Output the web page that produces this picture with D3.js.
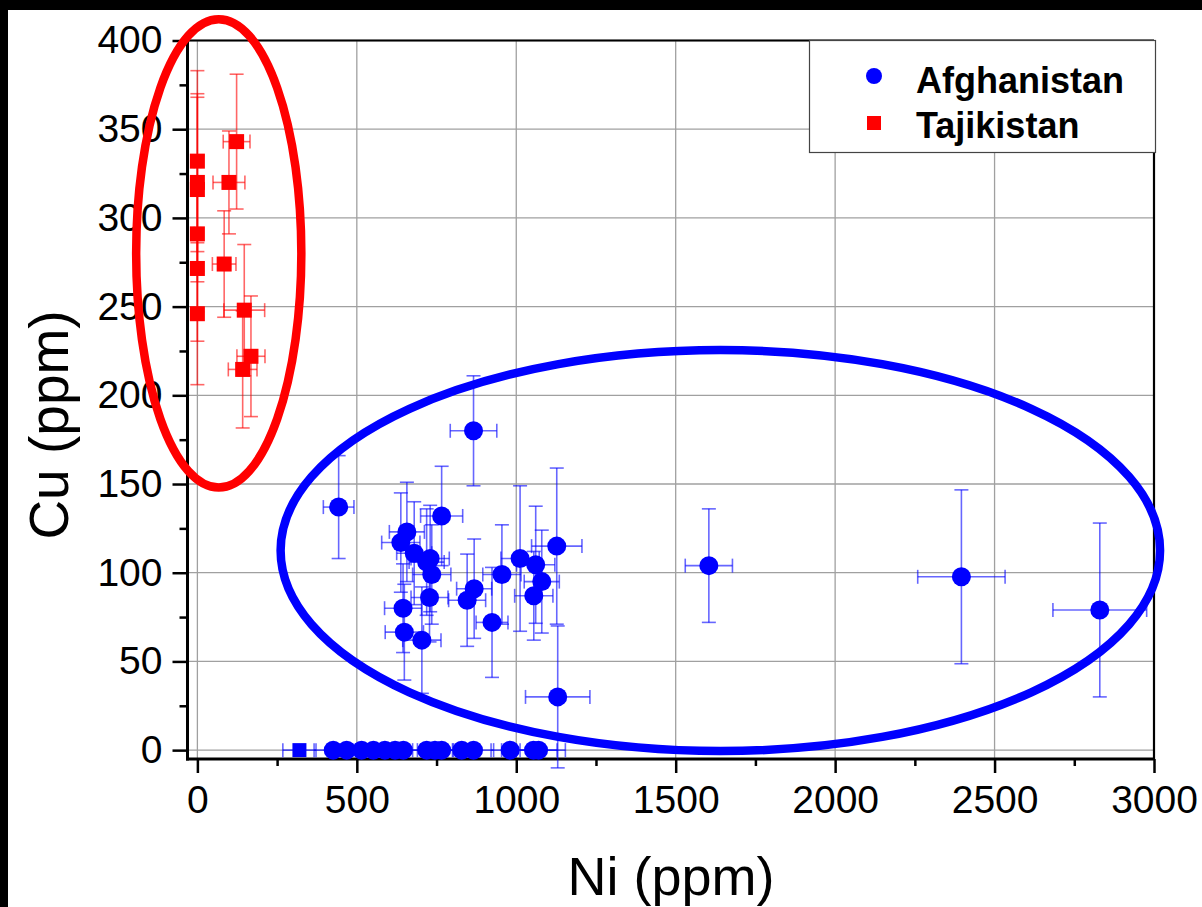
<!DOCTYPE html>
<html><head><meta charset="utf-8">
<script src="https://cdn.jsdelivr.net/npm/d3@7"></script>
<style>
body{margin:0;background:#fff;}
svg{display:block;}
text{font-family:"Liberation Sans",Arial,Helvetica,sans-serif;fill:#000;}
</style>
</head><body>
<svg id="c" width="1202" height="907"></svg>
<script>
// ---------------- data ----------------
const xTicks = [0, 500, 1000, 1500, 2000, 2500, 3000];
const xMinor = [250, 750, 1250, 1750, 2250, 2750];
const yTicks = [0, 50, 100, 150, 200, 250, 300, 350, 400];
const yMinor = [25, 75, 125, 175, 225, 275, 325, 375];

// Afghanistan (blue circles)
const afgNi    = [443, 866, 657, 638, 680, 730, 719, 735, 766, 728, 645, 649, 704, 868, 846, 955, 924, 1012, 1061, 1080, 1055, 1127, 1130, 1604, 2396, 2830];
const afgCu    = [137, 180, 123, 117, 111, 108, 106, 99, 132, 86, 80, 66.5, 62, 91, 84.5, 99, 72, 108, 104.5, 95, 87, 115, 30, 104, 97.7, 79];
const afgNiErr = [48, 73, 55, 60, 55, 60, 55, 60, 66, 58, 58, 60, 60, 55, 58, 60, 50, 60, 60, 55, 60, 79, 101, 74, 137, 147];
const afgCuErr = [29, 31, 28, 28, 29, 30, 30, 28, 28, 25, 25, 27, 30, 28, 26, 28, 31, 41, 33, 29, 25, 44, 40, 32, 49, 49];

// Afghanistan samples with Cu = 0
const afgZeroNi    = [426, 468, 515, 552, 588, 620, 646, 719, 745, 766, 829, 866, 981, 1054, 1070];
const afgZeroNiErr = [60, 55, 55, 55, 60, 55, 55, 60, 55, 60, 55, 63, 60, 100, 58];
// blue square sample at Cu = 0
const sqZeroNi = [320];
const sqZeroNiErr = [52];

// Tajikistan (red squares)
const tajNi    = [0, 0, 0, 0, 0, 0, 123, 99, 84, 147, 168, 142];
const tajCu    = [332, 320, 316, 291, 271.5, 246, 343, 320, 274, 248, 222, 214.6];
const tajNiErr = [10, 10, 10, 10, 10, 10, 42, 50, 37, 64, 44, 45];
const tajCuErr = [51, 50, 52, 44, 41, 40, 38, 29, 30, 37, 34, 33];

// annotation ellipses (data units: centre Ni, centre Cu, radius Ni, radius Cu)
const ellipseNames = ["Tajikistan", "Afghanistan"];
const ellipseCx = [67, 1640];
const ellipseCy = [280, 112.5];
const ellipseRx = [259, 1379];
const ellipseRy = [132, 113];

const seriesNames = ["Afghanistan", "Tajikistan"];

// ---------------- drawing ----------------
const svg = d3.select("#c");
const L = 187.5, R = 1154, T = 40.5, B = 759;
const x = d3.scaleLinear().domain([-31, 3000]).range([L, R]);
const y = d3.scaleLinear().domain([-5, 400]).range([B, T]);
const BLUE = "#0000ff", RED = "#ff0000";

svg.append("rect").attr("width", 1202).attr("height", 907).attr("fill", "#fff");

// grid
const grid = svg.append("g").attr("stroke", "#a0a0a0").attr("stroke-width", 1.3);
grid.selectAll("line.gx").data(xTicks).join("line")
  .attr("x1", d => x(d)).attr("x2", d => x(d)).attr("y1", T).attr("y2", B);
grid.selectAll("line.gy").data(yTicks).join("line")
  .attr("x1", L).attr("x2", R).attr("y1", d => y(d)).attr("y2", d => y(d));

// axes
const xAxis = d3.axisBottom(x).tickValues(xTicks).tickSize(14).tickPadding(12).tickFormat(d3.format("d"));
const gx = svg.append("g").attr("transform", `translate(0,${B})`).call(xAxis);
gx.select(".domain").remove();
gx.selectAll(".tick line").attr("stroke", "#000").attr("stroke-width", 2.5);
gx.selectAll(".tick text").attr("font-size", 39).attr("fill", "#000")
  .attr("font-family", '"Liberation Sans",Arial,sans-serif');
const gxm = svg.append("g").attr("transform", `translate(0,${B})`)
  .call(d3.axisBottom(x).tickValues(xMinor).tickSize(7).tickFormat(""));
gxm.select(".domain").remove();
gxm.selectAll(".tick line").attr("stroke", "#000").attr("stroke-width", 2.5);

const yAxis = d3.axisLeft(y).tickValues(yTicks).tickSize(15).tickPadding(10).tickFormat(d3.format("d"));
const gy = svg.append("g").attr("transform", `translate(${L},0)`).call(yAxis);
gy.select(".domain").remove();
gy.selectAll(".tick line").attr("stroke", "#000").attr("stroke-width", 2.5);
gy.selectAll(".tick text").attr("font-size", 39).attr("fill", "#000")
  .attr("font-family", '"Liberation Sans",Arial,sans-serif');
const gym = svg.append("g").attr("transform", `translate(${L},0)`)
  .call(d3.axisLeft(y).tickValues(yMinor).tickSize(8).tickFormat(""));
gym.select(".domain").remove();
gym.selectAll(".tick line").attr("stroke", "#000").attr("stroke-width", 2.5);

// frame
svg.append("line").attr("x1", L).attr("x2", R).attr("y1", T).attr("y2", T).attr("stroke", "#000").attr("stroke-width", 2.2);
svg.append("line").attr("x1", R).attr("x2", R).attr("y1", T).attr("y2", B).attr("stroke", "#000").attr("stroke-width", 2.2);
svg.append("line").attr("x1", L).attr("x2", L).attr("y1", T - 1).attr("y2", B + 1.5).attr("stroke", "#000").attr("stroke-width", 3);
svg.append("line").attr("x1", L - 1.5).attr("x2", R + 1).attr("y1", B).attr("y2", B).attr("stroke", "#000").attr("stroke-width", 3);

// error bar helper
function errBars(g, xs, ys, xe, ye, color) {
  const cap = 7;
  const dat = xs.map((v, i) => ({ x: v, y: ys[i], xe: xe ? xe[i] : 0, ye: ye ? ye[i] : 0 }));
  const gg = g.append("g").attr("stroke", color).attr("stroke-opacity", 0.6).attr("stroke-width", 1.6).attr("fill", "none");
  dat.forEach(d => {
    const px = x(d.x), py = y(d.y);
    if (d.ye > 0) {
      const y1 = y(d.y + d.ye), y2 = y(d.y - d.ye);
      gg.append("line").attr("x1", px).attr("x2", px).attr("y1", y1).attr("y2", y2);
      gg.append("line").attr("x1", px - cap).attr("x2", px + cap).attr("y1", y1).attr("y2", y1);
      gg.append("line").attr("x1", px - cap).attr("x2", px + cap).attr("y1", y2).attr("y2", y2);
    }
    if (d.xe > 0) {
      const x1 = x(d.x - d.xe), x2 = x(d.x + d.xe);
      gg.append("line").attr("x1", x1).attr("x2", x2).attr("y1", py).attr("y2", py);
      gg.append("line").attr("x1", x1).attr("x2", x1).attr("y1", py - cap).attr("y2", py + cap);
      gg.append("line").attr("x1", x2).attr("x2", x2).attr("y1", py - cap).attr("y2", py + cap);
    }
  });
}

const marks = svg.append("g");
errBars(marks, afgZeroNi, afgZeroNi.map(() => 0), afgZeroNiErr, null, BLUE);
errBars(marks, sqZeroNi, [0], sqZeroNiErr, null, BLUE);
errBars(marks, afgNi, afgCu, afgNiErr, afgCuErr, BLUE);
errBars(marks, tajNi, tajCu, tajNiErr, tajCuErr, RED);

// markers
marks.append("g").selectAll("circle").data(afgNi.map((v, i) => [v, afgCu[i]])).join("circle")
  .attr("cx", d => x(d[0])).attr("cy", d => y(d[1])).attr("r", 9.5).attr("fill", BLUE);
marks.append("g").selectAll("circle").data(afgZeroNi).join("circle")
  .attr("cx", d => x(d)).attr("cy", y(0)).attr("r", 9.5).attr("fill", BLUE);
marks.append("g").selectAll("rect").data(sqZeroNi).join("rect")
  .attr("x", d => x(d) - 7).attr("y", y(0) - 7).attr("width", 14).attr("height", 14).attr("fill", BLUE);
marks.append("g").selectAll("rect").data(tajNi.map((v, i) => [v, tajCu[i]])).join("rect")
  .attr("x", d => x(d[0]) - 7.5).attr("y", d => y(d[1]) - 7.5).attr("width", 15).attr("height", 15).attr("fill", RED);

// legend
const lg = svg.append("g");
lg.append("rect").attr("x", 809.5).attr("y", 40.5).attr("width", 346).attr("height", 112)
  .attr("fill", "#fff").attr("stroke", "#444").attr("stroke-width", 1.2);
lg.append("circle").attr("cx", 874).attr("cy", 76).attr("r", 8).attr("fill", BLUE);
lg.append("rect").attr("x", 867).attr("y", 116).attr("width", 14).attr("height", 14).attr("fill", RED);
lg.append("text").attr("x", 916).attr("y", 93).attr("font-size", 36).attr("font-weight", "bold").text(seriesNames[0]);
lg.append("text").attr("x", 916).attr("y", 138).attr("font-size", 36).attr("font-weight", "bold").text(seriesNames[1]);

// axis titles
svg.append("text").attr("x", 671).attr("y", 895).attr("text-anchor", "middle").attr("font-size", 54).text("Ni (ppm)");
svg.append("text").attr("transform", "translate(68,425) rotate(-90)").attr("text-anchor", "middle").attr("font-size", 55).text("Cu (ppm)");

// annotation ellipses
const ecol = [RED, BLUE];
svg.append("g").selectAll("ellipse").data(ellipseNames).join("ellipse")
  .attr("cx", (d, i) => x(ellipseCx[i]))
  .attr("cy", (d, i) => y(ellipseCy[i]))
  .attr("rx", (d, i) => x(ellipseRx[i]) - x(0))
  .attr("ry", (d, i) => y(0) - y(ellipseRy[i]))
  .attr("fill", "none").attr("stroke", (d, i) => ecol[i]).attr("stroke-width", 8.5);

// black borders of the original picture
svg.append("rect").attr("x", 0).attr("y", 0).attr("width", 1202).attr("height", 10).attr("fill", "#000");
svg.append("rect").attr("x", 0).attr("y", 0).attr("width", 8).attr("height", 907).attr("fill", "#000");
</script>
</body></html>
